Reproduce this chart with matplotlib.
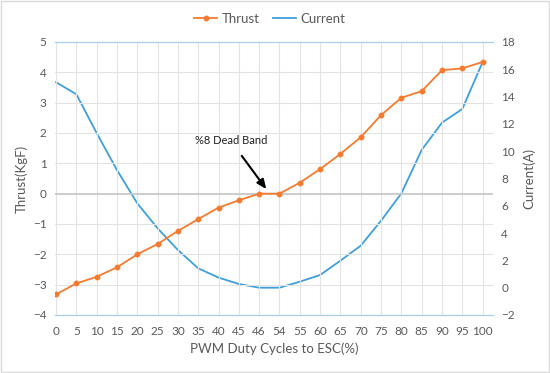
import matplotlib.pyplot as plt
import numpy as np

plt.rcParams['font.family'] = ['Lato', 'DejaVu Sans']

# data
duty_labels = ["0", "5", "10", "15", "20", "25", "30", "35", "40", "45", "46",
               "54", "55", "60", "65", "70", "75", "80", "85", "90", "95", "100"]
thrust = [-3.32, -2.96, -2.74, -2.43, -2.0, -1.66, -1.23, -0.84, -0.46, -0.22, 0.0,
          0.0, 0.36, 0.81, 1.31, 1.86, 2.59, 3.16, 3.38, 4.07, 4.13, 4.34]
current = [15.05, 14.17, 11.33, 8.62, 6.18, 4.35, 2.76, 1.42, 0.74, 0.27, 0.0,
           0.0, 0.44, 0.93, 1.98, 3.08, 4.91, 6.91, 10.09, 12.09, 13.09, 16.53]

orange = "#F47B2F"
blue = "#3E9FDC"
txt = "#595959"
grid = "#E3E3E3"
edge = "#A9CDEB"

fig = plt.figure(figsize=(5.5, 3.73), dpi=100)
fig.patches.append(plt.Rectangle((0.002, 0.003), 0.996, 0.994, transform=fig.transFigure,
                                 fill=False, edgecolor="#D9D9D9", lw=1))
ax = fig.add_axes([0.1, 0.1555, 0.796, 0.732])
ax2 = ax.twinx()

x = np.arange(len(duty_labels))

# vertical grid at each category
for xi in x:
    ax.axvline(xi, color=grid, lw=0.8, zorder=0)
for yv in range(-3, 5):
    ax.axhline(yv, color=("#C8C8C8" if yv == 0 else grid), lw=(1.3 if yv == 0 else 0.8), zorder=0)

l2, = ax2.plot(x, current, color=blue, lw=1.3, label="Current")
l1, = ax.plot(x, thrust, color=orange, lw=1.3, marker="o", ms=3.2, label="Thrust", zorder=3)
ax.set_zorder(ax2.get_zorder() + 1)
ax.patch.set_visible(False)

ax.set_xlim(-0.05, 21.5)
ax.set_ylim(-4, 5)
ax2.set_ylim(-2, 18)
ax.set_yticks(np.arange(-4, 6, 1))
ax2.set_yticks(np.arange(-2, 19, 2))
ax.set_xticks(x)
ax.set_xticklabels(duty_labels)

for a in (ax, ax2):
    for s in ("left", "right"):
        a.spines[s].set_visible(False)
    a.spines["top"].set_color(edge)
    a.spines["bottom"].set_color(edge)
    a.tick_params(length=0, labelsize=8.5, colors=txt, pad=6)
ax.tick_params(axis="x", pad=8)

ax.set_xlabel("PWM Duty Cycles to ESC(%)", fontsize=9.5, color=txt, labelpad=4)
ax.set_ylabel("Thrust(KgF)", fontsize=9.5, color=txt, labelpad=4)
ax2.set_ylabel("Current(A)", fontsize=9.5, color=txt, labelpad=6)

ax.annotate("%8 Dead Band", xy=(10.35, 0.15), xytext=(8.6, 1.74),
            fontsize=8, ha="center", va="center", color="#222222",
            arrowprops=dict(arrowstyle="-|>,head_width=0.3,head_length=0.7",
                            color="black", lw=1.5, shrinkA=6, shrinkB=0))

fig.legend(handles=[l1, l2], loc="center", bbox_to_anchor=(0.49, 0.95), ncol=2,
           frameon=False, fontsize=9.5, labelcolor=txt, handlelength=1.8,
           handletextpad=0.3, columnspacing=1.0)

fig.savefig("out.png", dpi=100)
